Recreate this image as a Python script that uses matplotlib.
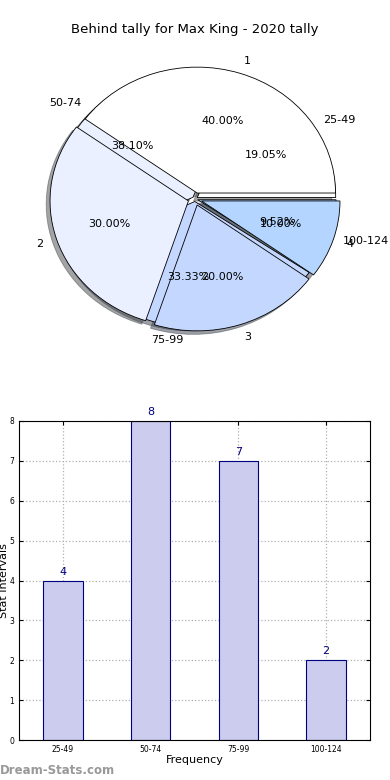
import matplotlib
matplotlib.use("Agg")
import matplotlib.pyplot as plt

# data
title = "Behind tally for Max King - 2020 tally"
tally_labels = ["1", "2", "3", "4"]
tally_values = [4, 3, 2, 1]
interval_labels = ["25-49", "50-74", "75-99", "100-124"]
frequencies = [4, 8, 7, 2]
pie_colors = ["#ffffff", "#eaf0ff", "#c4d8ff", "#b3d5ff"]

fig = plt.figure(figsize=(3.9, 7.8), dpi=100)
fig.text(0.5, 1 - 30 / 780, title, ha="center", va="center", fontsize=9.5)

# pie (two pies drawn on the same axes)
ax1 = fig.add_axes([40 / 390, 1 - 340 / 780, 310 / 390, 282 / 780])
ax1.pie(frequencies, labels=interval_labels, colors=pie_colors, autopct="%.2f%%",
        explode=[0.02] * 4, shadow=True, startangle=0, counterclock=True,
        wedgeprops=dict(edgecolor="black", linewidth=0.6),
        textprops=dict(fontsize=8))
ax1.pie(tally_values, labels=tally_labels, colors=pie_colors, autopct="%.2f%%",
        explode=[0.05] * 4, shadow=True, startangle=0, counterclock=True,
        wedgeprops=dict(edgecolor="black", linewidth=0.6),
        textprops=dict(fontsize=8))
ax1.set_aspect("auto")
ax1.set_xlim(-1.12, 1.12)
ax1.set_ylim(-1.12, 1.12)

# bar chart
ax2 = fig.add_axes([19 / 390, 1 - 740 / 780, 351 / 390, 319 / 780])
x = range(len(frequencies))
bars = ax2.bar(x, frequencies, width=0.45, color="#ccccee", edgecolor="navy", linewidth=0.8, zorder=2)
for b, v in zip(bars, frequencies):
    ax2.text(b.get_x() + b.get_width() / 2, v + 0.1, str(v), ha="center", va="bottom",
             color="navy", fontsize=8)
ax2.set_xlim(-0.5, 3.5)
ax2.set_ylim(0, 8)
ax2.set_xticks(list(x))
ax2.set_xticklabels(interval_labels)
ax2.tick_params(direction="in", labelsize=5.5, length=3, top=True, right=True)
ax2.grid(True, linestyle=":", color="#b0b0b0", linewidth=0.9, zorder=0)
ax2.set_axisbelow(True)
ax2.set_xlabel("Frequency", fontsize=8, labelpad=1)
ax2.set_ylabel("Stat Intervals", fontsize=8, labelpad=0)

fig.text(0.0, 1 - 770 / 780, "Dream-Stats.com", ha="left", va="center",
         fontsize=8.5, color="#999999", fontweight="bold")

fig.savefig("out.png", dpi=100)
